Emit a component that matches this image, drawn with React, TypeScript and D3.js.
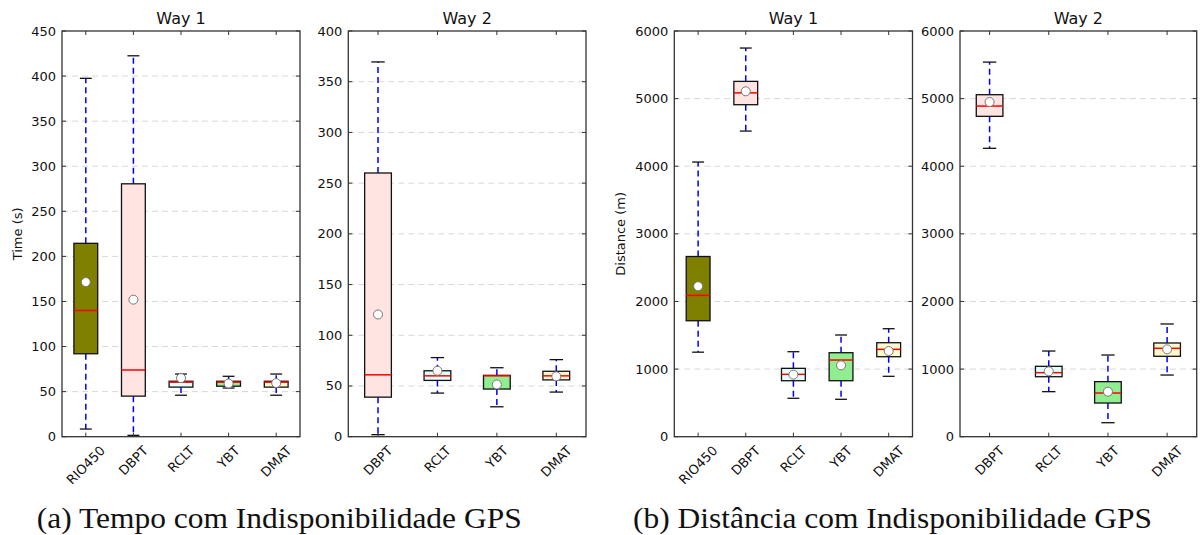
import { useEffect, useRef } from 'react';
import * as d3 from 'd3';

// stats per box: [lowerWhisker, q1, median, q3, upperWhisker, mean]
type Stat = [number, number, number, number, number, number];

const catsWay1 = ['RIO450', 'DBPT', 'RCLT', 'YBT', 'DMAT'];
const catsWay2 = ['DBPT', 'RCLT', 'YBT', 'DMAT'];

const timeWay1: Stat[] = [
    [8.5, 92, 140, 214.5, 397.5, 171.5],
    [1.5, 45, 74, 280.5, 422.5, 152],
    [46, 55, 60.5, 61.5, 69.5, 65],
    [54, 56, 60.5, 61.5, 67, 59],
    [46, 55, 60.5, 61.5, 69.5, 59.5],
];
const timeWay2: Stat[] = [
    [2, 39, 61, 260, 369.5, 120.5],
    [43, 55.5, 60, 65, 78, 65],
    [29.5, 47, 60, 60.5, 68, 51.5],
    [44, 56, 60, 64.5, 76, 59.5],
];
const distWay1: Stat[] = [
    [1250, 1715, 2090, 2665, 4062, 2225],
    [4520, 4910, 5085, 5255, 5748, 5108],
    [568, 828, 922, 1011, 1257, 917],
    [553, 828, 1134, 1242, 1504, 1055],
    [893, 1183, 1292, 1390, 1597, 1267],
];
const distWay2: Stat[] = [
    [4265, 4738, 4890, 5058, 5540, 4950],
    [666, 887, 947, 1041, 1267, 967],
    [207, 498, 646, 814, 1208, 666],
    [912, 1189, 1307, 1386, 1667, 1292],
];

const timeTicks = [0, 50, 100, 150, 200, 250, 300, 350, 400, 450];
const timeTicks2 = [0, 50, 100, 150, 200, 250, 300, 350, 400];
const distTicks = [0, 1000, 2000, 3000, 4000, 5000, 6000];

const boxColors: Record<string, string> = {
    RIO450: '#808000',
    DBPT: '#ffe4e1',
    RCLT: '#e0ffff',
    YBT: '#90ee90',
    DMAT: '#fffacd',
};

const font = 'DejaVu Sans, sans-serif';

interface Panel {
    x0: number;
    x1: number;
    cats: string[];
    stats: Stat[];
    ticks: number[];
    max: number;
    title: string;
    yLabel?: string;
    yLabelX?: number;
    boxFrac: number;
}

const panels: Panel[] = [
    { x0: 62, x1: 300, cats: catsWay1, stats: timeWay1, ticks: timeTicks, max: 450, title: 'Way 1', yLabel: 'Time (s)', yLabelX: 17, boxFrac: 0.5 },
    { x0: 348.3, x1: 586, cats: catsWay2, stats: timeWay2, ticks: timeTicks2, max: 400, title: 'Way 2', boxFrac: 0.45 },
    { x0: 674.3, x1: 912.5, cats: catsWay1, stats: distWay1, ticks: distTicks, max: 6000, title: 'Way 1', yLabel: 'Distance (m)', yLabelX: 620, boxFrac: 0.5 },
    { x0: 960, x1: 1196.7, cats: catsWay2, stats: distWay2, ticks: distTicks, max: 6000, title: 'Way 2', boxFrac: 0.45 },
];

const top = 31;
const bottom = 436.7;

export default function App() {
    const svgRef = useRef<SVGSVGElement>(null);

    useEffect(() => {
        if (!svgRef.current) return;
        const svg = d3.select(svgRef.current);
        svg.selectAll('*').remove();

        svg.append('rect').attr('width', 1203).attr('height', 535).attr('fill', '#fff');

        panels.forEach(p => {
            const x = d3.scalePoint<string>().domain(p.cats).range([p.x0, p.x1]).padding(0.5);
            const y = d3.scaleLinear().domain([0, p.max]).range([bottom, top]);
            const boxW = x.step() * p.boxFrac;
            const g = svg.append('g');

            // grid
            g.selectAll('.grid')
                .data(p.ticks.slice(1, -1))
                .enter()
                .append('line')
                .attr('x1', p.x0).attr('x2', p.x1)
                .attr('y1', d => y(d)).attr('y2', d => y(d))
                .attr('stroke', '#d8d8d8')
                .attr('stroke-width', 1)
                .attr('stroke-dasharray', '6,4');

            // whiskers
            p.stats.forEach((s, i) => {
                const cx = x(p.cats[i]) as number;
                const [lo, q1, med, q3, hi, mean] = s;
                g.append('line')
                    .attr('x1', cx).attr('x2', cx)
                    .attr('y1', y(q3)).attr('y2', y(hi))
                    .attr('stroke', 'blue').attr('stroke-width', 1.5).attr('stroke-dasharray', '6,4');
                g.append('line')
                    .attr('x1', cx).attr('x2', cx)
                    .attr('y1', y(q1)).attr('y2', y(lo))
                    .attr('stroke', 'blue').attr('stroke-width', 1.5).attr('stroke-dasharray', '6,4');
                [lo, hi].forEach(v => {
                    g.append('line')
                        .attr('x1', cx - boxW / 4).attr('x2', cx + boxW / 4)
                        .attr('y1', y(v)).attr('y2', y(v))
                        .attr('stroke', '#111').attr('stroke-width', 1.3);
                });
                g.append('rect')
                    .attr('x', cx - boxW / 2)
                    .attr('y', y(q3))
                    .attr('width', boxW)
                    .attr('height', y(q1) - y(q3))
                    .attr('fill', boxColors[p.cats[i]])
                    .attr('stroke', '#111')
                    .attr('stroke-width', 1.3);
                g.append('line')
                    .attr('x1', cx - boxW / 2).attr('x2', cx + boxW / 2)
                    .attr('y1', y(med)).attr('y2', y(med))
                    .attr('stroke', 'red').attr('stroke-width', 1.5);
                g.append('circle')
                    .attr('cx', cx).attr('cy', y(mean)).attr('r', 4.5)
                    .attr('fill', '#fff').attr('stroke', '#777').attr('stroke-width', 1);
            });

            // frame
            g.append('rect')
                .attr('x', p.x0).attr('y', top)
                .attr('width', p.x1 - p.x0).attr('height', bottom - top)
                .attr('fill', 'none').attr('stroke', '#333').attr('stroke-width', 1.3);

            // inward ticks
            p.ticks.forEach(t => {
                g.append('line').attr('x1', p.x0).attr('x2', p.x0 + 4).attr('y1', y(t)).attr('y2', y(t)).attr('stroke', '#333');
                g.append('line').attr('x1', p.x1).attr('x2', p.x1 - 4).attr('y1', y(t)).attr('y2', y(t)).attr('stroke', '#333');
                g.append('text')
                    .attr('x', p.x0 - 6).attr('y', y(t))
                    .attr('text-anchor', 'end').attr('dominant-baseline', 'central')
                    .attr('font-family', font).attr('font-size', 13).attr('fill', '#111')
                    .text(t);
            });
            p.cats.forEach(c => {
                const cx = x(c) as number;
                g.append('line').attr('x1', cx).attr('x2', cx).attr('y1', top).attr('y2', top + 4).attr('stroke', '#333');
                g.append('line').attr('x1', cx).attr('x2', cx).attr('y1', bottom).attr('y2', bottom - 4).attr('stroke', '#333');
                const t = g.append('text')
                    .attr('font-family', font).attr('font-size', 13).attr('fill', '#111')
                    .attr('text-anchor', 'middle').attr('dominant-baseline', 'central')
                    .text(c);
                const w = (t.node() as SVGTextElement).getComputedTextLength();
                const half = (w + 13) / (2 * Math.SQRT2);
                const cy = bottom + 7 + half;
                t.attr('x', cx).attr('y', cy).attr('transform', `rotate(-45 ${cx} ${cy})`);
            });

            // title
            g.append('text')
                .attr('x', (p.x0 + p.x1) / 2).attr('y', 24)
                .attr('text-anchor', 'middle')
                .attr('font-family', font).attr('font-size', 16).attr('fill', '#111')
                .text(p.title);

            if (p.yLabel) {
                g.append('text')
                    .attr('transform', `translate(${p.yLabelX},${(top + bottom) / 2}) rotate(-90)`)
                    .attr('text-anchor', 'middle').attr('dominant-baseline', 'central')
                    .attr('font-family', font).attr('font-size', 13).attr('fill', '#111')
                    .text(p.yLabel);
            }
        });

        // captions
        const captions = [
            { text: '(a) Tempo com Indisponibilidade GPS', x: 36.7, len: 485 },
            { text: '(b) Distância com Indisponibilidade GPS', x: 633, len: 519 },
        ];
        captions.forEach(c => {
            svg.append('text')
                .attr('x', c.x).attr('y', 527.5)
                .attr('font-family', 'Liberation Serif, DejaVu Serif, serif')
                .attr('font-size', 29).attr('fill', '#111')
                .attr('textLength', c.len).attr('lengthAdjust', 'spacingAndGlyphs')
                .text(c.text);
        });
    }, []);

    return (
        <svg
            ref={svgRef}
            width={1203}
            height={535}
            style={{ position: 'absolute', left: 0, top: 0 }}
        />
    );
}
